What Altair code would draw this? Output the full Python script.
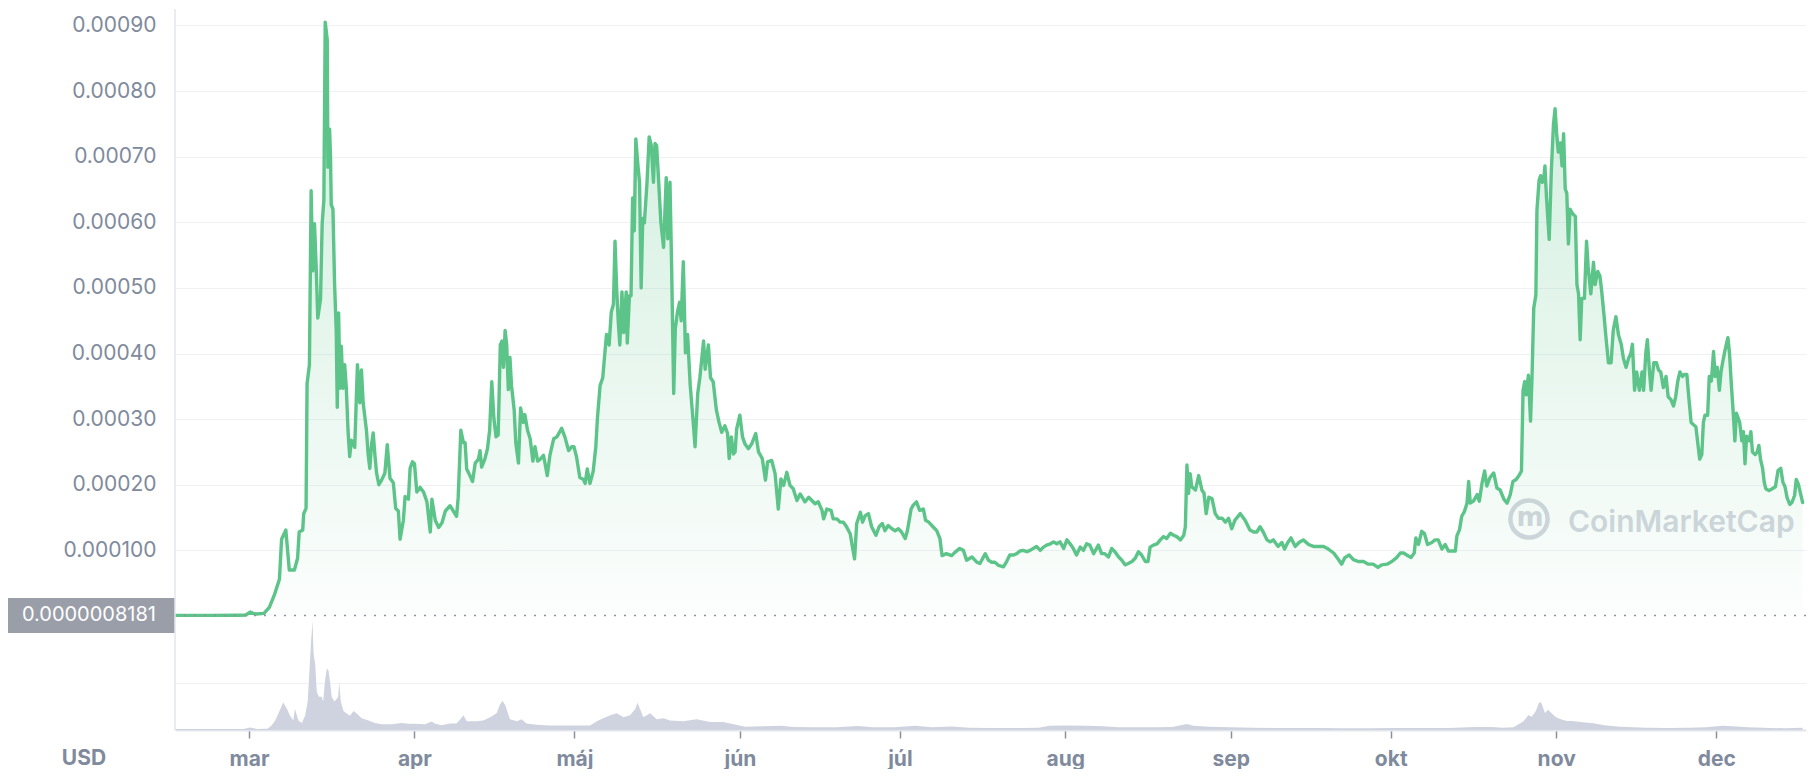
import json
import altair as alt
import pandas as pd

# ---------------- data ----------------
START = "2021-03-01"          # day 0 of the day offsets below

# price: day offset from START, price in units of 0.0001 USD
PRICE_DAYS = [
    -13.85, -7.0, -2.0, -0.6, 0.2, 0.8, 1.3, 2.8, 3.8, 4.7, 5.7, 6.1, 6.9, 7.55, 8.5, 9.1, 9.4,
    10.06, 10.25, 10.69, 10.88, 11.32, 11.64, 11.95, 12.27, 12.58, 12.89, 13.40, 13.71, 14.03,
    14.28, 14.66, 14.78, 15.10, 15.28, 15.41, 15.73, 16.04, 16.35, 16.54, 16.79, 17.05, 17.30,
    17.61, 17.93, 18.24, 18.56, 18.87, 19.18, 19.81, 20.32, 20.76, 21.07, 21.39, 21.70, 22.02,
    22.33, 22.64, 22.96, 23.27, 23.59, 23.90, 24.34, 24.85, 25.47, 25.91, 26.42, 27.05, 27.49,
    27.99, 28.31, 28.93, 29.25, 29.88, 30.19, 30.63, 31.01, 31.45, 32.08, 32.71, 33.34, 33.97,
    34.28, 34.91, 35.54, 36.17, 36.80,
    37.68, 38.9, 39.2, 39.7, 40.2, 40.5, 40.8, 41.4, 41.9, 42.4, 43.0, 43.3, 43.6, 44.2, 44.7,
    45.1, 45.5, 45.9, 46.3, 46.7, 47.1, 47.4, 47.7, 48.0, 48.3, 48.6, 48.9, 49.2, 49.7, 50.0,
    50.5, 50.9, 51.4, 51.7, 52.2, 52.7, 53.2, 53.6, 54.1, 54.6, 55.2, 55.9, 56.4, 57.1, 57.7,
    58.6, 59.2, 59.9, 60.5, 60.9, 61.4, 62.0, 62.7, 63.0, 63.4, 63.9, 64.5, 65.0, 65.3, 65.8,
    66.3, 66.7, 67.0, 67.5, 67.9, 68.3, 68.6, 68.9, 69.2, 69.5, 69.9, 70.2, 70.7, 70.9, 71.3,
    71.6, 71.9, 72.2, 72.5, 72.9, 73.2, 73.5, 73.8, 74.1, 74.6, 75.0, 75.4, 75.8, 76.1, 76.4,
    76.7, 77.2, 77.7, 78.2, 78.5, 78.9, 79.2, 79.6, 79.9, 80.3, 80.7, 81.0, 81.4, 81.8, 82.2,
    82.7, 83.2, 83.6, 84.1, 84.5, 85.2, 85.5, 86.1, 86.5, 87.0, 87.6, 88.1, 88.6,
    89.2, 89.7, 90.0, 90.4, 90.8, 91.1, 91.4, 92.0, 92.5, 92.97, 93.6, 94.2, 94.97, 95.5, 96.2,
    96.8, 97.2, 97.97, 98.6, 99.2, 99.7, 100.2, 100.8, 101.4, 102.0, 102.7, 103.3, 104.2, 104.9,
    105.5, 106.1, 106.7, 107.4, 107.7, 108.3, 109.1, 109.5, 110.2, 110.8, 111.4, 112.0, 112.7,
    113.1, 113.5, 113.9, 114.6, 115.0, 115.5, 116.1, 116.7, 117.5, 118.1, 118.7, 119.2, 119.8,
    120.5, 121.1, 121.7, 122.3, 123.0, 123.4, 124.1, 124.5, 125.1, 125.7, 126.4, 126.8, 127.4,
    128.2, 128.9, 129.5, 129.9, 130.7, 131.7, 132.3, 133.2, 133.9, 134.5, 135.5, 136.4, 137.0,
    138.0, 138.6, 139.2, 139.8, 140.5,
    141.4, 142.0, 142.6, 143.3, 143.9, 144.5, 145.1, 145.8, 146.4, 147.0, 147.6, 148.3, 148.9,
    149.5, 150.2, 150.8, 151.4, 152.0, 152.7, 153.3, 153.9, 154.5, 155.1, 155.8, 156.4, 157.0,
    157.6, 158.3, 159.2, 159.8, 160.4, 161.1, 161.7, 162.3, 163.0, 163.6, 164.2, 164.8, 165.5,
    166.1, 166.7, 167.3, 168.0, 168.5, 168.9, 169.5, 170.2, 170.8, 171.4, 172.0, 172.7, 173.3,
    173.9, 174.6, 175.2, 175.5, 175.8, 176.1, 176.4, 176.7, 177.4, 178.0, 178.6, 179.0, 179.4,
    179.9, 180.5, 181.1, 181.7, 182.4, 183.0, 183.6, 184.2, 184.8, 185.8, 186.7, 187.6, 188.3,
    188.9, 189.5, 190.1, 190.8, 191.4, 192.0,
    192.9, 193.6, 194.1, 194.7, 195.3, 196.1, 196.8, 197.6, 198.6, 199.5, 200.4, 201.4, 202.3,
    203.3, 204.2, 204.8, 205.4, 206.2, 207.0, 207.9, 208.9, 209.8, 210.7, 211.6, 212.3, 213.3,
    214.2, 215.1, 215.8, 216.4, 217.0, 217.8, 218.4, 218.7, 219.2, 219.8, 220.3, 220.9, 221.7,
    222.3, 222.9, 223.6, 224.2, 224.8, 225.4, 226.1, 226.4, 226.9, 227.3, 227.8, 228.3, 228.6,
    228.9, 229.5, 230.2, 230.6, 231.1, 231.6, 232.0, 232.6, 233.3, 233.9, 234.5, 235.2, 235.8,
    236.4, 236.9, 237.5, 238.1, 238.5, 238.8, 239.1, 239.4, 239.8, 240.2, 240.5, 240.8, 241.2,
    241.4, 241.8, 242.1, 242.4, 242.7,
    242.9, 243.2, 243.7, 244.1, 244.5, 244.8, 245.1, 245.4, 245.8, 246.1, 246.4, 246.7, 247.0,
    247.3, 247.6, 248.1, 248.6, 248.9, 249.2, 249.5, 249.8, 250.3, 250.7, 251.0, 251.5, 252.0,
    252.3, 252.8, 253.2, 253.5, 254.0, 254.3, 254.8, 255.3, 255.7, 256.2, 256.7, 257.2, 257.6,
    258.1, 258.6, 259.0, 259.3, 259.7, 260.1, 260.6, 261.1, 261.4, 261.8, 262.1, 262.5, 262.8,
    263.3, 263.8, 264.2, 264.6, 265.1, 265.6, 266.0, 266.5, 267.0, 267.4, 267.8, 268.2, 268.7,
    269.0, 269.5, 269.9, 270.3, 270.7, 271.2, 271.5, 271.9, 272.3, 272.6, 272.9, 273.4, 273.7,
    274.1, 274.5, 274.8, 275.2, 275.6, 275.9, 276.2, 276.6, 276.9, 277.2, 277.5, 277.8, 278.2,
    278.5, 278.8, 279.1, 279.4, 279.8, 280.1, 280.4, 280.7, 281.2, 281.5, 281.8, 282.3, 282.7,
    283.0, 283.3, 283.7, 284.0, 284.3, 284.9, 285.5, 286.1, 286.6, 287.1, 287.5, 287.9, 288.3,
    288.8, 289.2, 289.7, 290.0, 290.4, 290.8, 291.2,
]
PRICE_E4 = [
    0.010, 0.010, 0.012, 0.015, 0.06, 0.04, 0.03, 0.04, 0.13, 0.31, 0.56, 1.17, 1.31, 0.70, 0.70, 0.88, 1.28,
    1.31, 1.56, 1.64, 3.54, 3.83, 6.48, 5.26, 5.98, 5.33, 4.54, 4.83, 5.98, 6.34,
    9.05, 8.78, 6.84, 7.42, 6.98, 6.27, 6.20, 5.05, 4.33, 3.18, 4.62, 3.47, 4.11,
    3.47, 3.83, 3.47, 2.82, 2.43, 2.68, 2.57, 3.83, 3.25, 3.75, 3.25, 3.04, 2.82,
    2.46, 2.25, 2.61, 2.79, 2.46, 2.18, 2.00, 2.07, 2.18, 2.61, 2.10, 2.03, 1.64,
    1.60, 1.17, 1.46, 1.82, 1.78, 2.25, 2.35, 2.32, 1.89, 1.96, 1.89, 1.74, 1.28,
    1.78, 1.46, 1.35, 1.42, 1.60,
    1.68, 1.52, 1.80, 2.83, 2.64, 2.64, 2.24, 2.14, 2.05, 2.33, 2.39, 2.52, 2.27, 2.39, 2.55,
    2.83, 3.57, 3.01, 2.73, 2.76, 4.13, 4.19, 3.79, 4.35, 4.13, 3.45, 3.94, 3.51, 3.14, 2.64,
    2.33, 3.17, 2.95, 3.07, 2.83, 2.70, 2.36, 2.58, 2.36, 2.39, 2.45, 2.14, 2.45, 2.70, 2.73,
    2.86, 2.73, 2.52, 2.58, 2.58, 2.42, 2.11, 2.08, 2.02, 2.24, 2.02, 2.20, 2.58, 3.01, 3.51,
    3.63, 4.01, 4.29, 4.13, 4.63, 4.75, 5.71, 5.00, 4.50, 4.13, 4.94, 4.32, 4.94, 4.16, 4.88,
    4.88, 6.37, 5.87, 7.27, 6.86, 6.61, 5.00, 6.06, 5.99, 6.61, 7.30, 7.17, 6.61, 7.20, 7.17,
    6.74, 5.99, 5.62, 6.68, 5.75, 6.61, 5.37, 3.39, 4.38, 4.63, 4.78, 4.50, 5.40, 4.01, 4.29,
    3.51, 3.01, 2.58, 3.39, 3.63, 4.19, 3.76, 4.13, 3.63, 3.57, 3.14, 2.95, 2.80,
    2.90, 2.78, 2.40, 2.73, 2.47, 2.50, 2.85, 3.06, 2.73, 2.62, 2.55, 2.62, 2.78, 2.50, 2.40,
    2.07, 2.35, 2.37, 2.17, 1.63, 2.09, 1.99, 2.19, 1.99, 1.94, 1.76, 1.86, 1.74, 1.81,
    1.76, 1.71, 1.74, 1.61, 1.48, 1.63, 1.61, 1.48, 1.48, 1.43, 1.43, 1.36, 1.25,
    1.05, 0.87, 1.41, 1.58, 1.43, 1.53, 1.56, 1.36, 1.23, 1.36, 1.41, 1.30, 1.38,
    1.33, 1.30, 1.33, 1.28, 1.18, 1.30, 1.63, 1.69, 1.74, 1.61, 1.63, 1.46, 1.43,
    1.36, 1.30, 1.18, 0.92, 0.95, 0.92, 0.97, 1.03, 1.00, 0.85, 0.90, 0.82, 0.80,
    0.95, 0.85, 0.82, 0.82, 0.77,
    0.75, 0.83, 0.93, 0.93, 0.95, 0.99, 1.00, 0.98, 1.00, 1.03, 1.06, 1.00, 1.05,
    1.08, 1.10, 1.13, 1.10, 1.13, 1.03, 1.16, 1.10, 1.03, 0.93, 1.05, 1.00, 1.10,
    1.08, 0.95, 1.08, 0.95, 0.95, 0.90, 1.03, 0.98, 0.90, 0.85, 0.78, 0.80, 0.83,
    0.88, 0.98, 0.93, 0.83, 0.83, 1.05, 1.08, 1.10, 1.16, 1.21, 1.18, 1.26, 1.23,
    1.21, 1.16, 1.23, 1.36, 2.30, 1.87, 2.17, 1.97, 1.92, 2.14, 1.92, 1.87, 1.56,
    1.81, 1.79, 1.56, 1.49, 1.49, 1.43, 1.49, 1.33, 1.46, 1.56, 1.46, 1.31, 1.28,
    1.28, 1.36, 1.28, 1.16, 1.13, 1.16,
    1.06, 1.12, 1.02, 1.12, 1.19, 1.06, 1.12, 1.16, 1.09, 1.06, 1.06, 1.06, 1.02,
    0.96, 0.86, 0.79, 0.89, 0.93, 0.86, 0.83, 0.83, 0.79, 0.79, 0.74, 0.78, 0.79,
    0.83, 0.89, 0.96, 0.96, 0.93, 0.89, 0.96, 1.19, 1.09, 1.29, 1.26, 1.09, 1.12,
    1.16, 1.16, 1.02, 1.09, 0.99, 0.99, 0.99, 1.22, 1.32, 1.52, 1.59, 1.72, 2.05,
    1.72, 1.75, 1.85, 1.75, 2.02, 2.21, 1.98, 2.11, 2.18, 1.95, 1.92, 1.78, 1.72,
    1.85, 2.05, 2.08, 2.15, 2.21, 3.44, 3.57, 3.37, 3.67, 2.97, 3.70, 4.69, 4.89,
    6.18, 6.64, 6.71, 6.61, 6.67,
    6.86, 6.37, 5.74, 6.79, 7.49, 7.73, 7.35, 7.07, 7.21, 6.86, 7.35, 6.51, 6.44,
    5.67, 6.20, 6.13, 6.09, 5.05, 4.91, 4.21, 4.84, 4.84, 5.71, 5.32, 4.91, 5.39,
    5.05, 5.25, 5.18, 4.98, 4.56, 4.28, 3.86, 3.86, 4.35, 4.56, 4.28, 4.14, 3.93,
    3.79, 3.93, 4.00, 4.14, 3.44, 3.72, 3.44, 3.72, 3.44, 4.00, 4.21, 3.72, 3.44,
    3.86, 3.86, 3.75, 3.72, 3.48, 3.65, 3.34, 3.30, 3.20, 3.34, 3.58, 3.72, 3.65,
    3.68, 3.68, 3.30, 2.95, 2.92, 2.88, 2.67, 2.39, 2.46, 2.95, 3.06, 3.06, 3.65,
    3.58, 4.03, 3.65, 3.79, 3.44, 3.72, 3.86, 4.03, 4.14, 4.24, 4.00, 3.58, 3.09,
    2.67, 3.09, 3.02, 2.95, 2.67, 2.81, 2.32, 2.74, 2.67, 2.81, 2.50, 2.46, 2.50,
    2.60, 2.39, 2.25, 2.04, 1.94, 1.91, 1.94, 1.97, 2.22, 2.25, 2.04, 1.97, 1.80,
    1.70, 1.73, 1.84, 2.08, 2.01, 1.87, 1.73,
]

# volume: day offset from START, volume in million USD
VOL_DAYS = [
    -13.85, -1.0, 0.2, 1.5, 3.5, 4.25, 4.9, 5.5, 6.1, 6.4, 7.1, 7.7, 8.3, 8.6, 9.25, 9.9, 10.5,
    11.0, 11.3, 11.6, 11.9, 12.1, 12.4, 12.7, 13.1, 13.6, 13.9, 14.2, 14.6, 14.9, 15.2, 15.5,
    16.0, 16.4, 16.7, 16.9, 17.2, 17.7, 18.3, 18.9, 19.6, 20.2, 21.1, 22.4, 23.6, 24.9, 26.8,
    28.6, 29.9, 31.1, 33.0, 34.2, 34.9, 36.1, 37.7, 38.9, 39.6, 40.2, 40.8, 42.7, 43.9, 45.2,
    46.4, 47.0, 47.5, 48.0, 48.4, 48.9, 50.2, 51.1, 52.0, 53.9, 56.4, 58.9, 61.4, 63.9, 65.2,
    66.4, 67.7, 68.9, 70.2, 71.4, 72.4, 72.8, 73.3, 73.9, 75.2, 76.4, 77.7, 78.9, 81.4, 83.9,
    86.4, 88.9, 90.2, 93.0, 96.0, 99.8, 102.0, 106.0, 110.0, 114.2, 117.0, 121.0, 124.9, 128.0,
    131.7, 135.0, 139.0, 142.0, 145.0, 148.0, 150.0, 153.0, 157.0, 160.0, 163.0, 166.0, 170.0,
    173.0, 175.8, 177.0, 180.0, 184.0, 188.0, 192.0, 196.0, 200.0, 205.0, 210.0, 215.0, 220.0,
    225.0, 229.8, 232.9, 235.0, 237.0, 238.9, 239.8, 240.4, 241.2, 241.7, 242.0, 242.3, 242.9,
    243.5, 244.5, 245.0, 246.0, 247.0, 248.0, 250.0, 252.0, 254.0, 257.0, 262.0, 266.0, 270.0,
    273.0, 276.2, 278.0, 281.0, 285.0, 288.0, 291.2,
]
VOL_M = [
    11, 11, 27, 11, 13, 50, 100, 175, 250, 290, 225, 150, 100, 225, 100, 75, 150,
    300, 600, 900, 1150, 800, 700, 400, 350, 350, 300, 500, 650, 625, 500, 350,
    300, 325, 350, 500, 300, 200, 175, 150, 200, 175, 125, 100, 75, 60, 60,
    75, 65, 65, 60, 90, 65, 50, 69, 69, 113, 156, 91, 91, 100, 135,
    177, 264, 308, 264, 200, 113, 91, 113, 69, 56, 48, 48, 48, 48, 91,
    125, 156, 177, 135, 156, 221, 286, 221, 135, 177, 113, 125, 100, 91, 113,
    83, 83, 69, 35, 40, 45, 32, 30, 30, 42, 30, 28, 45, 30,
    38, 25, 22, 20, 22, 25, 45, 48, 45, 40, 30, 28, 30,
    32, 64, 45, 35, 28, 25, 22, 20, 20, 18, 18, 20, 22,
    22, 32, 32, 25, 30, 92, 159, 140, 200, 276, 297, 276, 180,
    212, 159, 135, 110, 95, 96, 82, 70, 50, 35, 25, 22, 25,
    30, 46, 40, 30, 22, 18, 25,
]

CURRENT_PRICE = 0.0000008181
CURRENT_LABEL = "0.0000008181"
Y_TICKS = [0.0001, 0.0002, 0.0003, 0.0004, 0.0005, 0.0006, 0.0007, 0.0008, 0.0009]
MONTH_NAMES = ["jan", "feb", "mar", "apr", "máj", "jún", "júl", "aug", "sep", "okt", "nov", "dec"]
TICK_MONTHS = [3, 4, 5, 6, 7, 8, 9, 10, 11, 12]
CURRENCY = "USD"
WATERMARK = "CoinMarketCap"

# ---------------- tables ----------------
start = pd.Timestamp(START)
price_df = pd.DataFrame({
    "date": start + pd.to_timedelta(PRICE_DAYS, unit="D"),
    "price": [v * 1e-4 for v in PRICE_E4],
})
vol_df = pd.DataFrame({
    "date": start + pd.to_timedelta(VOL_DAYS, unit="D"),
    "vol": VOL_M,
})
cur_df = pd.DataFrame({"price": [CURRENT_PRICE], "label": [CURRENT_LABEL]})
usd_df = pd.DataFrame({"t": [CURRENCY]})
wm_df = pd.DataFrame({"t": [WATERMARK]})
logo_df = pd.DataFrame({"t": ["m"]})
one_df = pd.DataFrame({"k": [0]})

# ---------------- style ----------------
W, H = 1631, 721
PRICE_BOTTOM = 607
GREEN = "#5cc489"
LABEL_GREY = "#808a9d"
GRID = "#eff1f4"
FONT = "Inter"

x_scale = alt.Scale(domain=[alt.DateTime(year=2021, month=2, date=15, hours=3),
                            alt.DateTime(year=2021, month=12, date=17, hours=20)], nice=False)
x_axis = alt.Axis(
    values=[alt.DateTime(year=2021, month=m, date=1) for m in TICK_MONTHS],
    labelExpr=json.dumps(MONTH_NAMES) + "[month(datum.value)]",
    title=None, grid=False, domainColor="#e3e6ec", domainWidth=2,
    tickColor="#8a90a0", tickWidth=1.5, tickSize=8, labelPadding=27,
    labelBaseline="alphabetic", labelFontSize=21, labelFontWeight="bold",
    labelColor=LABEL_GREY, labelFont=FONT, labelFlush=False, labelOverlap=False,
)
x_enc = alt.X("date:T", scale=x_scale, axis=x_axis)

price_axis = alt.Axis(
    values=Y_TICKS, orient="left", title=None,
    labelExpr="datum.value < 0.00015 ? '0.000100' : format(datum.value, '.5f')",
    grid=True, gridColor=GRID, gridWidth=1, domain=False, ticks=False, tickSize=0,
    labelPadding=19, labelFontSize=21, labelColor=LABEL_GREY, labelFont=FONT,
)
price_scale = alt.Scale(domain=[0, 0.000925], range=[PRICE_BOTTOM, 0], nice=False, zero=False)
price_y = alt.Y("price:Q", scale=price_scale, axis=price_axis)

vol_axis = alt.Axis(values=[500], orient="right", title=None, labels=False, ticks=False,
                    domain=False, grid=True, gridColor=GRID, gridWidth=1)
vol_scale = alt.Scale(domain=[0, 1200], range=[H, PRICE_BOTTOM], nice=False)

# ---------------- layers ----------------
wm_circle = alt.Chart(one_df).mark_point(
    shape="circle", filled=False, size=1385, strokeWidth=4.5, color="#d3d6de", opacity=1
).encode(x=alt.value(1354), y=alt.value(510))
wm_m = alt.Chart(logo_df).mark_text(
    font="DejaVu Sans", fontSize=26, fontWeight="bold", color="#d3d6de", align="center", baseline="middle"
).encode(x=alt.value(1355), y=alt.value(509), text="t:N")
wm_text = alt.Chart(wm_df).mark_text(
    font=FONT, fontSize=30, fontWeight=600, color="#d3d6de", align="left", baseline="middle"
).encode(x=alt.value(1393), y=alt.value(514), text="t:N")

area = alt.Chart(price_df).mark_area(
    color=alt.Gradient(
        gradient="linear",
        stops=[alt.GradientStop(color="rgba(92,196,137,0.30)", offset=0),
               alt.GradientStop(color="rgba(92,196,137,0.02)", offset=1)],
        x1=0, x2=0, y1=0, y2=1,
    ),
    clip=True,
).encode(x=x_enc, y=price_y)

line = alt.Chart(price_df).mark_line(
    color=GREEN, strokeWidth=3.4, strokeJoin="round", strokeCap="round", clip=True
).encode(x=x_enc, y=price_y)

dotted = alt.Chart(cur_df).mark_rule(
    color="#8e929b", strokeWidth=1.5, strokeDash=[2, 8]
).encode(y=price_y)

box = alt.Chart(cur_df).mark_rect(
    color="#9a9ea8", yOffset=-17.5, y2Offset=17.5
).encode(x=alt.value(-167), x2=alt.value(0), y=price_y, y2=alt.Y2("price:Q"))

box_text = alt.Chart(cur_df).mark_text(
    align="right", baseline="middle", color="white", fontSize=20, font=FONT
).encode(x=alt.value(-19), y=price_y, text="label:N")

left_line = alt.Chart(one_df).mark_rule(color="#e3e6ec", strokeWidth=1.5).encode(
    x=alt.value(0), y=alt.value(0), y2=alt.value(H)
)

usd = alt.Chart(usd_df).mark_text(
    font=FONT, fontSize=21, fontWeight="bold", color=LABEL_GREY, align="center", baseline="alphabetic"
).encode(x=alt.value(-91), y=alt.value(H + 35), text="t:N")

vol_area = alt.Chart(vol_df).mark_area(color="#cfd3df", clip=True).encode(
    x=x_enc, y=alt.Y("vol:Q", scale=vol_scale, axis=vol_axis)
)

price_group = alt.layer(wm_circle, wm_m, wm_text, area, line, dotted, box, box_text, left_line, usd)
vol_group = alt.layer(vol_area)

chart = (
    alt.layer(vol_group, price_group)
    .resolve_scale(y="independent")
    .properties(width=W, height=H, padding=0)
    .configure_view(stroke=None)
)

chart.save("out.html", embed_options={"renderer": "svg", "actions": False})
